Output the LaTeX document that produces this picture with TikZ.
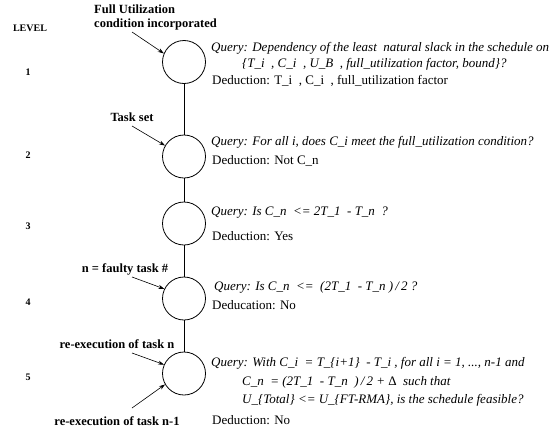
\documentclass[tikz,border=0pt]{standalone}
\usepackage{fontspec}
\setmainfont{Liberation Serif}
\usetikzlibrary{arrows.meta}
\begin{document}
\begin{tikzpicture}[x=1pt,y=-1pt,
  stage/.style={circle,draw,line width=0.8pt,minimum size=43pt,inner sep=0pt},
  lvl/.style={font=\fontsize{10}{12}\selectfont\bfseries,inner sep=0pt},
  lbl/.style={font=\fontsize{12.5}{14}\selectfont\bfseries,inner sep=0pt,align=left},
  qry/.style={font=\fontsize{13}{16}\selectfont\itshape,inner sep=0pt,anchor=west},
  ded/.style={font=\fontsize{13}{16}\selectfont,inner sep=0pt,anchor=west},
  arr/.style={-{Stealth[length=6pt,width=4pt]},line width=0.6pt},
  link/.style={line width=0.8pt}]
\useasboundingbox (0,0) rectangle (553,431);
% levels
\node[lvl] (lv) at (30,28) {LEVEL};
\node[lvl] (l1) at (28,72) {1};
\node[lvl] (l2) at (28,155) {2};
\node[lvl] (l3) at (28,226) {3};
\node[lvl] (l4) at (28,302) {4};
\node[lvl] (l5) at (28,377) {5};
% circles
\node[stage] (c1) at (184,62) {};
\node[stage] (c2) at (184,156.5) {};
\node[stage] (c3) at (184,223.5) {};
\node[stage] (c4) at (184,298.5) {};
\node[stage] (c5) at (184,373.5) {};
\draw[link] (c1) -- (c2);
\draw[link] (c2) -- (c3);
\draw[link] (c3) -- (c4);
\draw[link] (c4) -- (c5);
% left labels
\node[lbl,anchor=west] (t1) at (94,17) {Full Utilization\\condition incorporated};
\node[lbl] (t2) at (132,117) {Task set};
\node[lbl] (t4) at (125,269) {n = faulty task \#};
\node[lbl] (t5a) at (117,344) {re-execution of task n};
\node[lbl] (t5b) at (117,421) {re-execution of task n-1};
\coordinate (a1) at (132,32);
\coordinate (a2) at (132,126);
\coordinate (a4) at (132,277);
\coordinate (a5a) at (132,353);
\coordinate (a5b) at (132,408);
\draw[arr] (a1) -- (c1.157);
\draw[arr] (a2) -- (c2.150);
\draw[arr] (a4) -- (c4.154);
\draw[arr] (a5a) -- (c5.156);
\draw[arr] (a5b) -- (c5.210);
% right texts
\node[qry] (q1a) at (211,48) {Query: Dependency of the least\ \ natural slack in the schedule on};
\node[qry] (q1b) at (242,64) {\{T\_i\ \ , C\_i\ \ , U\_B\ \ , full\_utilization factor, bound\}?};
\node[ded] (d1) at (212,81) {Deduction: T\_i\ \ , C\_i\ \ , full\_utilization factor};
\node[qry] (q2) at (211,142) {Query: For all i, does C\_i meet the full\_utilization condition?};
\node[ded] (d2) at (212,161) {Deduction: Not C\_n};
\node[qry] (q3) at (211,213) {Query: Is C\_n\ \ <= 2T\_1\ \ - T\_n\ \ ?};
\node[ded] (d3) at (212,236) {Deduction: Yes};
\node[qry] (q4) at (214,287) {Query: Is C\_n\ \ <=\ \ (2T\_1\ \ - T\_n )\,/\,2 ?};
\node[ded] (d4) at (212,305) {Deducation: No};
\node[qry] (q5a) at (211,363) {Query: With C\_i\ \ = T\_\{i+1\}\ \ - T\_i , for all i = 1, ..., n-1 and};
\node[qry] (q5b) at (242,382) {C\_n\ \ = (2T\_1\ \ - T\_n\ \ )\,/\,2 + \textup{Δ}\ \ such that};
\node[qry] (q5c) at (242,400) {U\_\{Total\} <= U\_\{FT-RMA\}, is the schedule feasible?};
\node[ded] (d5) at (212,420) {Deduction: No};
\end{tikzpicture}
\end{document}
